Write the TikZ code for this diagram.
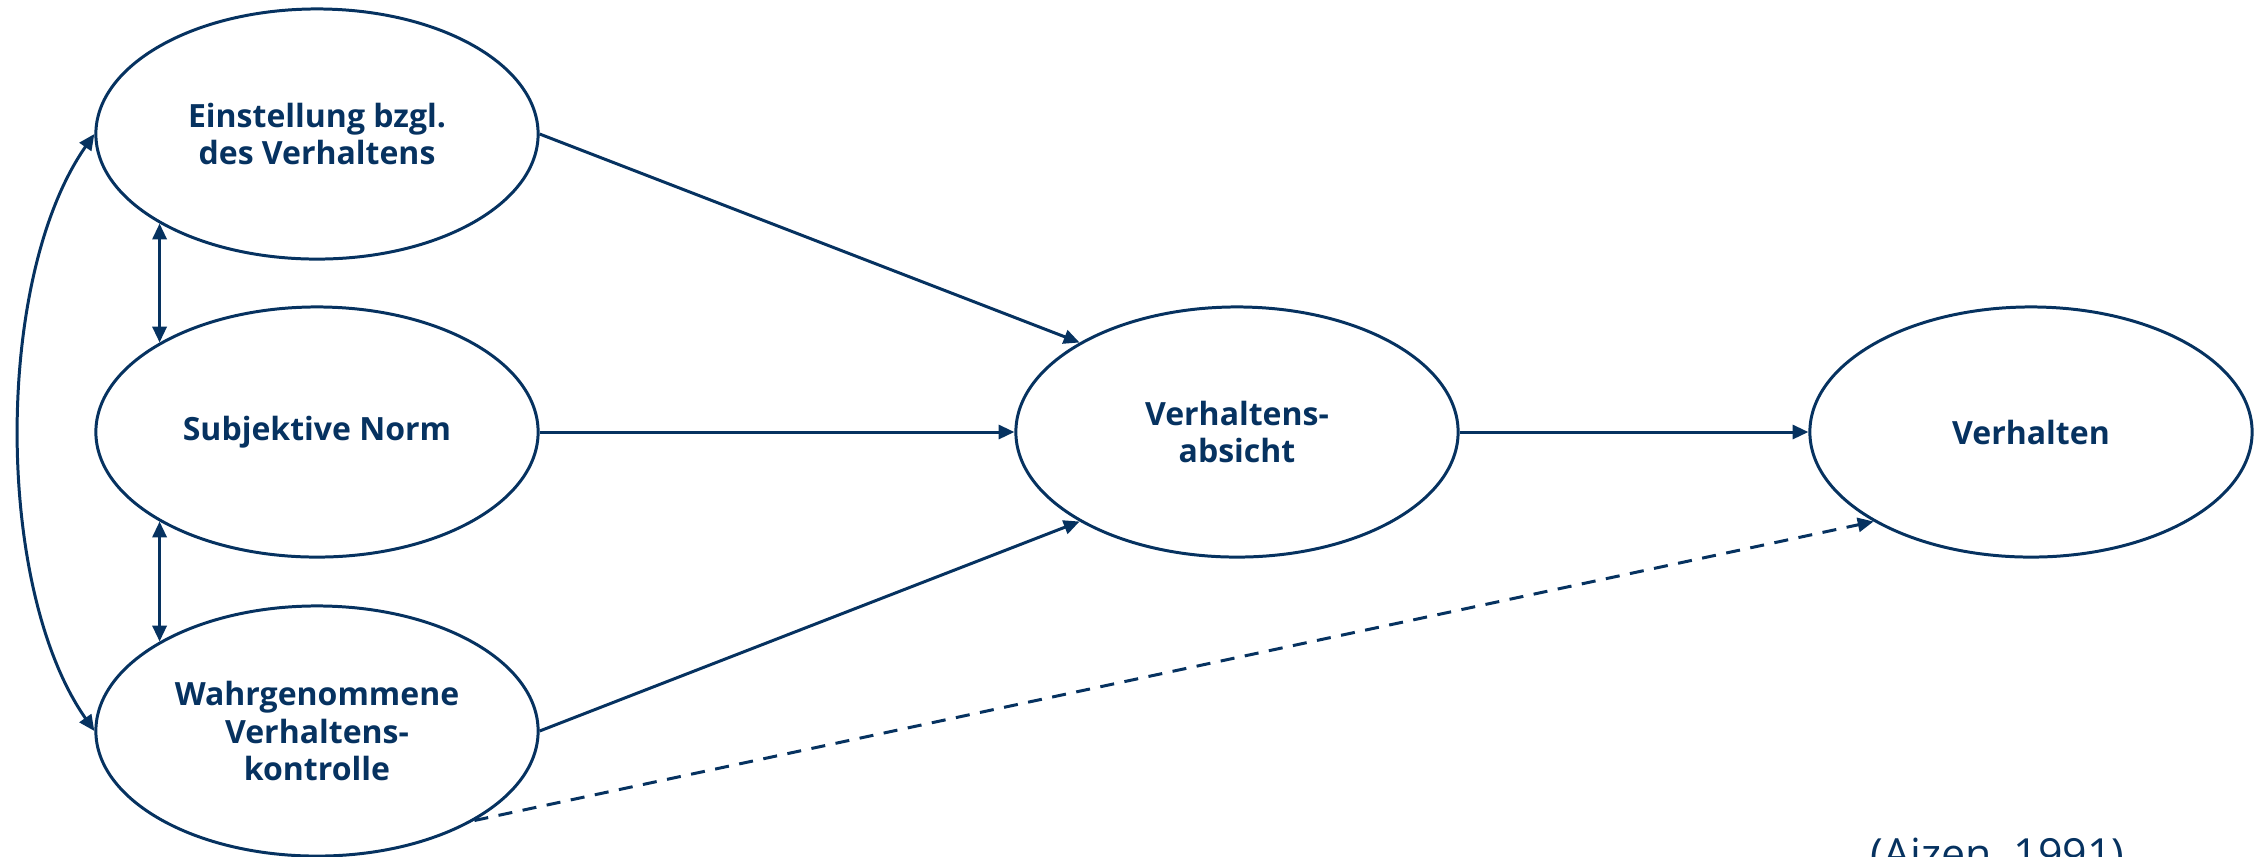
\documentclass[tikz,border=0pt]{standalone}
\usepackage{fontspec}
\setmainfont{Open Sans}
\usetikzlibrary{arrows.meta,shapes.geometric}
\definecolor{navy}{RGB}{6,50,96}

\begin{document}
\begin{tikzpicture}[x=0.01cm, y=-0.01cm,
		>={Triangle[length=4.5pt,width=4pt]},
		construct/.style={ellipse, draw=navy, line width=0.85pt, minimum width=4.42cm, minimum height=2.5cm, inner sep=0pt, align=center, text=navy, font=\fontsize{9.1}{10.7}\selectfont\bfseries},
		link/.style={color=navy, line width=0.85pt, ->},
		both/.style={link, <->},
		guess/.style={link, dash pattern=on 4pt off 3pt},
		source/.style={text=navy, inner sep=0pt, font=\fontsize{12.2}{14}\selectfont}]
		\useasboundingbox (0,0) rectangle (2262,856);
		\draw (317,134) node [construct] (E) {Einstellung bzgl.\\des Verhaltens};
		\draw (317,432) node [construct] (N) {Subjektive Norm};
		\draw (317,731) node [construct] (K) {Wahrgenommene\\Verhaltens-\\kontrolle};
		\draw (1237,432) node [construct] (A) {Verhaltens-\\absicht};
		\draw (2031,432) node [construct] (V) {Verhalten};
		\draw (1870,869) node [source, anchor=base west] (Q) {(Ajzen, 1991)};
		\draw
		(E.east) edge [link] (A.north west)
		(N.east) edge [link] (A.west)
		(K.east) edge [link] (A.south west)
		(A.east) edge [link] (V.west)
		(K.south east) edge [guess] (V.south west)
		(E.south west) edge [both] (N.north west)
		(N.south west) edge [both] (K.north west)
		(E.west) edge [both, out=235, in=125, looseness=0.75] (K.west);
	\end{tikzpicture}
\end{document}
